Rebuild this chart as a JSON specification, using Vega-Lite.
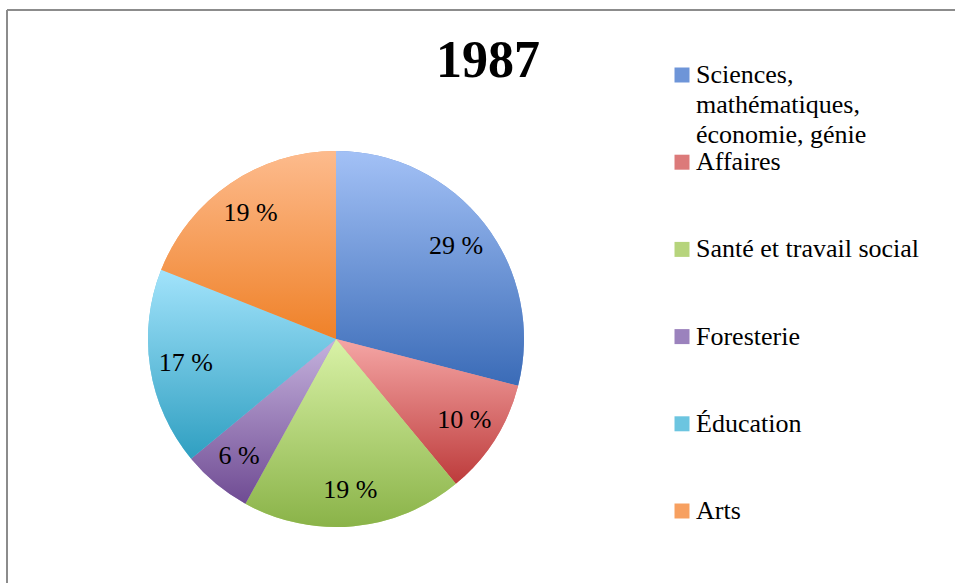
{
  "$schema": "https://vega.github.io/schema/vega-lite/v6.json",
  "width": 658,
  "height": 658,
  "autosize": {"type": "pad"},
  "padding": {"left": 7, "top": 9, "right": -17, "bottom": -85},
  "background": "white",
  "view": {"stroke": "#8c8c8c", "strokeWidth": 2, "strokeDash": [658, 1316, 658, 0]},
  "title": {
    "text": "1987",
    "font": "Liberation Serif",
    "fontSize": 52,
    "fontWeight": "bold",
    "color": "#000000",
    "anchor": "middle",
    "frame": "group",
    "dx": 152,
    "offset": -79,
    "baseline": "top"
  },
  "data": {
    "values": [
      {"ordre": 1, "domaine": "Sciences, mathématiques, économie, génie", "part": 29, "etiquette": "29 %"},
      {"ordre": 2, "domaine": "Affaires", "part": 10, "etiquette": "10 %"},
      {"ordre": 3, "domaine": "Santé et travail social", "part": 19, "etiquette": "19 %"},
      {"ordre": 4, "domaine": "Foresterie", "part": 6, "etiquette": "6 %"},
      {"ordre": 5, "domaine": "Éducation", "part": 17, "etiquette": "17 %"},
      {"ordre": 6, "domaine": "Arts", "part": 19, "etiquette": "19 %"}
    ]
  },
  "encoding": {
    "theta": {"field": "part", "type": "quantitative", "stack": true},
    "order": {"field": "ordre", "type": "quantitative"}
  },
  "layer": [
    {
      "mark": {"type": "arc", "radius": 188},
      "encoding": {
        "color": {
          "field": "domaine",
          "type": "nominal",
          "sort": null,
          "scale": {"range": ["#6E95D8", "#DC7A7A", "#B6D47C", "#9B82BD", "#6CC5E0", "#F7A060"]},
          "legend": {
            "orient": "none",
            "legendX": 610,
            "legendY": 0,
            "title": null,
            "padding": 52,
            "labelFont": "Liberation Serif",
            "labelFontSize": 26,
            "labelColor": "#000000",
            "labelLimit": 400,
            "labelOffset": 1,
            "labelBaseline": "alphabetic",
            "labelExpr": "datum.label === 'Sciences, mathématiques, économie, génie' ? ['Sciences,', 'mathématiques,', 'économie, génie'] : datum.label",
            "symbolType": "square",
            "symbolSize": 225,
            "symbolStrokeWidth": 0,
            "gridAlign": "all",
            "rowPadding": 1.2,
            "encoding": {
              "labels": {"dy": {"value": 8}, "lineHeight": {"value": 30}},
              "legend": {"stroke": {"value": "#8c8c8c"}, "strokeWidth": {"value": 2}, "strokeDash": {"value": [400, 3000]}}
            }
          }
        }
      }
    },
    {
      "mark": {"type": "arc", "radius": 188},
      "encoding": {
        "fill": {
          "condition": [
            {"test": "datum.domaine === 'Affaires'", "value": {"gradient": "linear", "x1": 0, "y1": 0, "x2": 0, "y2": 1, "stops": [{"offset": 0, "color": "#F5A6A5"}, {"offset": 1, "color": "#BD3B3B"}]}},
            {"test": "datum.domaine === 'Santé et travail social'", "value": {"gradient": "linear", "x1": 0, "y1": 0, "x2": 0, "y2": 1, "stops": [{"offset": 0, "color": "#D9F2A7"}, {"offset": 1, "color": "#8AB348"}]}},
            {"test": "datum.domaine === 'Foresterie'", "value": {"gradient": "linear", "x1": 0, "y1": 0, "x2": 0, "y2": 1, "stops": [{"offset": 0, "color": "#C5B2DD"}, {"offset": 1, "color": "#6F4B93"}]}},
            {"test": "datum.domaine === 'Éducation'", "value": {"gradient": "linear", "x1": 0, "y1": 0, "x2": 0, "y2": 1, "stops": [{"offset": 0, "color": "#A2E3FB"}, {"offset": 1, "color": "#2F9FC1"}]}},
            {"test": "datum.domaine === 'Arts'", "value": {"gradient": "linear", "x1": 0, "y1": 0, "x2": 0, "y2": 1, "stops": [{"offset": 0, "color": "#FDBB8D"}, {"offset": 1, "color": "#EF8128"}]}}
          ],
          "value": {"gradient": "linear", "x1": 0, "y1": 0, "x2": 0, "y2": 1, "stops": [{"offset": 0, "color": "#A3C1F6"}, {"offset": 1, "color": "#3A6BB7"}]}
        }
      }
    },
    {
      "mark": {"type": "text", "radius": 152, "font": "Liberation Serif", "fontSize": 26, "color": "#000000"},
      "encoding": {"text": {"field": "etiquette", "type": "nominal"}}
    }
  ]
}
